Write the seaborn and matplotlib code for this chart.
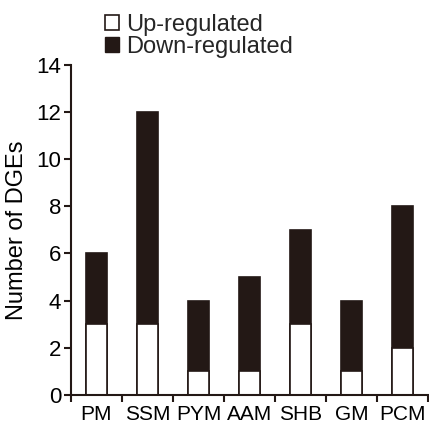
import matplotlib
matplotlib.use("Agg")
import matplotlib.pyplot as plt
import seaborn as sns
import pandas as pd
from matplotlib.patches import Patch

categories = ["PM", "SSM", "PYM", "AAM", "SHB", "GM", "PCM"]
up_regulated = [3, 3, 1, 1, 3, 1, 2]
down_regulated = [3, 9, 3, 4, 4, 3, 6]
y_ticks = [0, 2, 4, 6, 8, 10, 12, 14]

dark = "#231815"
sns.set_theme(style="ticks")
plt.rcParams['font.family'] = ['Liberation Sans', 'DejaVu Sans']

totals = [u + d for u, d in zip(up_regulated, down_regulated)]
df = pd.DataFrame({"cat": categories, "up": up_regulated, "total": totals})

fig = plt.figure(figsize=(4.29, 4.25), dpi=100)
ax = fig.add_axes([71/429, 1 - 395/425, (428 - 71)/429, (395 - 64.5)/425])

sns.barplot(data=df, x="cat", y="total", color=dark, edgecolor=dark, linewidth=1.2,
            saturation=1, width=0.4, ax=ax)
sns.barplot(data=df, x="cat", y="up", color="white", edgecolor=dark, linewidth=1.2,
            saturation=1, width=0.4, ax=ax)

ax.set_xlim(-0.5, 6.5)
ax.set_ylim(0, 14)
ax.set_yticks(y_ticks)
ax.set_xticks(range(len(categories)))
ax.set_xticklabels(categories)
ax.tick_params(axis='x', length=0, labelsize=15, colors="black", pad=7)
ax.set_xticks([i - 0.5 for i in range(len(categories) + 1)], minor=True)
ax.tick_params(axis='x', which='minor', length=5, width=1.5, color=dark, direction='out')
ax.tick_params(axis='y', length=5, width=1.5, color=dark, labelsize=16, labelcolor="black", pad=2)
for s in ["top", "right"]:
    ax.spines[s].set_visible(False)
for s in ["left", "bottom"]:
    ax.spines[s].set_color(dark)
    ax.spines[s].set_linewidth(1.5)
ax.set_xlabel("")
ax.set_ylabel("Number of DGEs", fontsize=17, color="black", labelpad=6)

handles = [Patch(facecolor="white", edgecolor=dark, linewidth=1.2, label="Up-regulated"),
           Patch(facecolor=dark, edgecolor=dark, label="Down-regulated")]
fig.legend(handles=handles, loc="upper left", bbox_to_anchor=(105/429, 1 - 14/425),
           frameon=False, fontsize=17, handlelength=0.6, handleheight=0.6,
           handletextpad=0.3, labelspacing=0.0, borderpad=0, borderaxespad=0)

fig.savefig("out.png", dpi=100)
